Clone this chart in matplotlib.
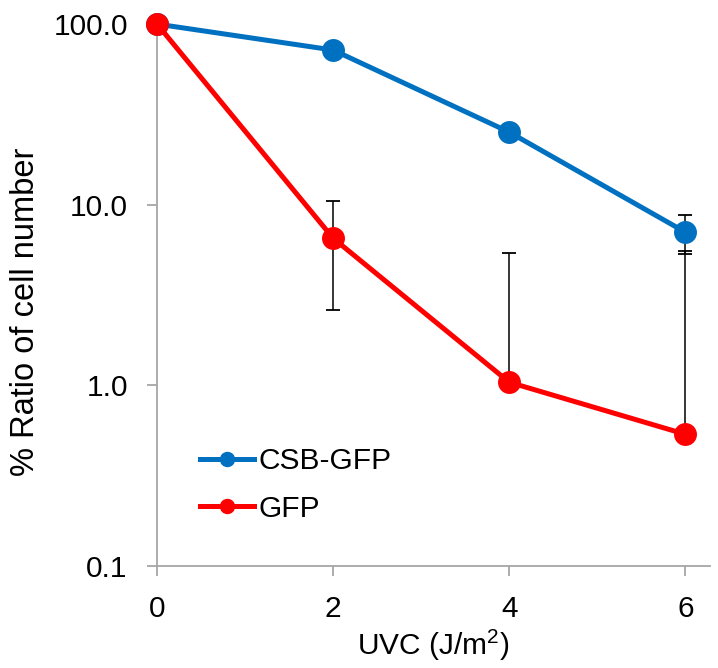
import numpy as np
import matplotlib
matplotlib.use("Agg")
import matplotlib.pyplot as plt

plt.rcParams['font.family'] = ['Liberation Sans', 'DejaVu Sans']
plt.rcParams['mathtext.default'] = 'regular'

uvc = [0, 2, 4, 6]
csb_vals = [100.0, 71.8, 25.2, 7.04]
csb_err = [0.0, 0.0, 0.0, 1.7]
gfp_vals = [100.0, 6.52, 1.04, 0.536]
gfp_err = [0.0, 3.9, 4.34, 5.0]
series_names = ["CSB-GFP", "GFP"]
yticks = [0.1, 1, 10, 100]
ytick_labels = ["0.1", "1.0", "10.0", "100.0"]
xticks = [0, 2, 4, 6]

FS = 21.5

fig = plt.figure(figsize=(7.18, 6.68), dpi=100)
ax = fig.add_axes([0.2187, 0.1527, 0.7703, 0.8113])

def lower(vals, errs):
    v = np.array(vals); e = np.array(errs)
    return np.where(v - e > 0, e, 0.0)

for vals, errs in [(csb_vals, csb_err), (gfp_vals, gfp_err)]:
    ax.errorbar(uvc, vals, yerr=[lower(vals, errs), errs], fmt='none',
                ecolor='black', elinewidth=1.1, capsize=4.7, capthick=1.3,
                zorder=2, clip_on=False)

ax.plot(uvc, csb_vals, color='#0070C0', lw=3.6, marker='o', ms=15.5,
        label=series_names[0], zorder=3, clip_on=False)
ax.plot(uvc, gfp_vals, color='#FF0000', lw=3.6, marker='o', ms=15.5,
        label=series_names[1], zorder=4, clip_on=False)

ax.set_yscale('log')
ax.set_ylim(0.1, 100)
ax.set_xlim(0, 6.28)
ax.set_yticks(yticks)
ax.set_yticklabels(ytick_labels)
ax.yaxis.set_minor_locator(matplotlib.ticker.NullLocator())
ax.set_xticks(xticks)

for s in ['top', 'right']:
    ax.spines[s].set_visible(False)
for s in ['left', 'bottom']:
    ax.spines[s].set_color('#A6A6A6')
    ax.spines[s].set_linewidth(1.3)
ax.tick_params(axis='both', direction='out', length=7, width=1.3,
               color='#A6A6A6', labelsize=FS, labelcolor='black')
ax.tick_params(axis='y', pad=14)
ax.tick_params(axis='x', pad=14)

ax.set_ylabel('% Ratio of cell number', fontsize=23.5)
ax.yaxis.set_label_coords(-0.21, 0.469)
ax.set_xlabel('UVC (J/m$^{2}$)', fontsize=FS, labelpad=3)

leg = ax.legend(loc='lower left', bbox_to_anchor=(0.078, 0.08), frameon=False,
                fontsize=FS, handlelength=1.8, handletextpad=0.16,
                labelspacing=0.65, markerscale=0.65, borderpad=0,
                borderaxespad=0)

fig.savefig('out.png', dpi=100)
